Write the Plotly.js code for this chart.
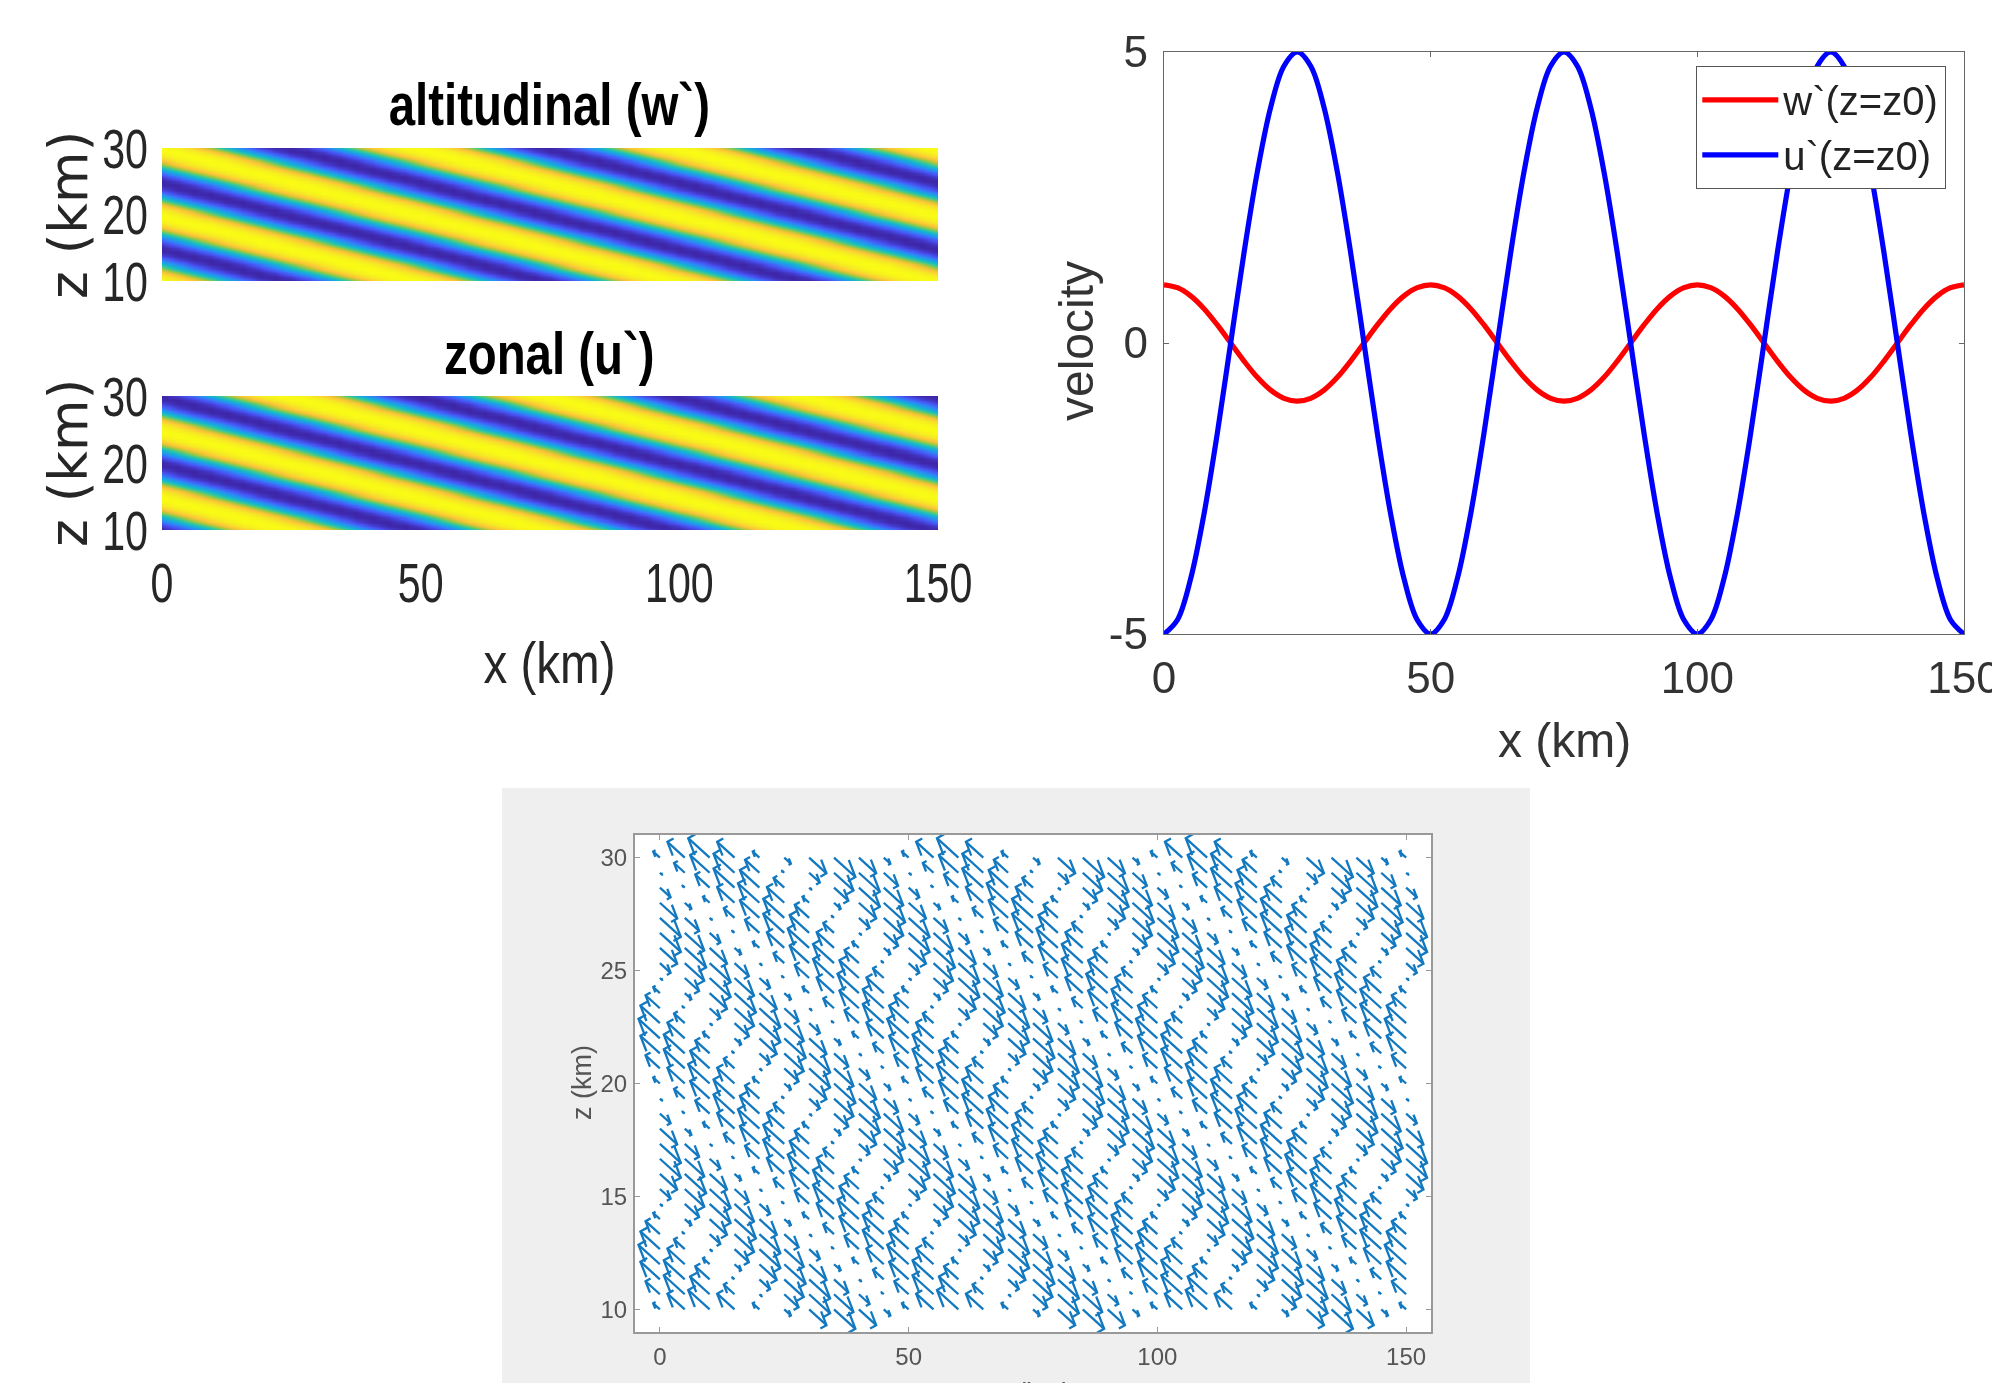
<!DOCTYPE html>
<html><head><meta charset="utf-8"><script src="https://cdn.plot.ly/plotly-3.0.1.min.js"></script>
<style>html,body{margin:0;padding:0;background:#fff;overflow:hidden}#c{width:1992px;height:1383px;filter:blur(0.6px)}</style></head>
<body><div id="c"></div><script>
const heatX=[0,3.125,6.25,9.375,12.5,15.625,18.75,21.875,25,28.125,31.25,34.375,37.5,40.625,43.75,46.875,50,53.125,56.25,59.375,62.5,65.625,68.75,71.875,75,78.125,81.25,84.375,87.5,90.625,93.75,96.875,100,103.125,106.25,109.375,112.5,115.625,118.75,121.875,125,128.125,131.25,134.375,137.5,140.625,143.75,146.875,150];
const heatZ=[10,10.625,11.25,11.875,12.5,13.125,13.75,14.375,15,15.625,16.25,16.875,17.5,18.125,18.75,19.375,20,20.625,21.25,21.875,22.5,23.125,23.75,24.375,25,25.625,26.25,26.875,27.5,28.125,28.75,29.375,30];
const wField=[
[99,85,59,23,-16,-52,-81,-97,-99,-85,-59,-23,16,52,81,97,99,85,59,23,-16,-52,-81,-97,-99,-85,-59,-23,16,52,81,97,99,85,59,23,-16,-52,-81,-97,-99,-85,-59,-23,16,52,81,97,99],
[85,59,23,-16,-52,-81,-97,-99,-85,-59,-23,16,52,81,97,99,85,59,23,-16,-52,-81,-97,-99,-85,-59,-23,16,52,81,97,99,85,59,23,-16,-52,-81,-97,-99,-85,-59,-23,16,52,81,97,99,85],
[59,23,-16,-52,-81,-97,-99,-85,-59,-23,16,52,81,97,99,85,59,23,-16,-52,-81,-97,-99,-85,-59,-23,16,52,81,97,99,85,59,23,-16,-52,-81,-97,-99,-85,-59,-23,16,52,81,97,99,85,59],
[23,-16,-52,-81,-97,-99,-85,-59,-23,16,52,81,97,99,85,59,23,-16,-52,-81,-97,-99,-85,-59,-23,16,52,81,97,99,85,59,23,-16,-52,-81,-97,-99,-85,-59,-23,16,52,81,97,99,85,59,23],
[-16,-52,-81,-97,-99,-85,-59,-23,16,52,81,97,99,85,59,23,-16,-52,-81,-97,-99,-85,-59,-23,16,52,81,97,99,85,59,23,-16,-52,-81,-97,-99,-85,-59,-23,16,52,81,97,99,85,59,23,-16],
[-52,-81,-97,-99,-85,-59,-23,16,52,81,97,99,85,59,23,-16,-52,-81,-97,-99,-85,-59,-23,16,52,81,97,99,85,59,23,-16,-52,-81,-97,-99,-85,-59,-23,16,52,81,97,99,85,59,23,-16,-52],
[-81,-97,-99,-85,-59,-23,16,52,81,97,99,85,59,23,-16,-52,-81,-97,-99,-85,-59,-23,16,52,81,97,99,85,59,23,-16,-52,-81,-97,-99,-85,-59,-23,16,52,81,97,99,85,59,23,-16,-52,-81],
[-97,-99,-85,-59,-23,16,52,81,97,99,85,59,23,-16,-52,-81,-97,-99,-85,-59,-23,16,52,81,97,99,85,59,23,-16,-52,-81,-97,-99,-85,-59,-23,16,52,81,97,99,85,59,23,-16,-52,-81,-97],
[-99,-85,-59,-23,16,52,81,97,99,85,59,23,-16,-52,-81,-97,-99,-85,-59,-23,16,52,81,97,99,85,59,23,-16,-52,-81,-97,-99,-85,-59,-23,16,52,81,97,99,85,59,23,-16,-52,-81,-97,-99],
[-85,-59,-23,16,52,81,97,99,85,59,23,-16,-52,-81,-97,-99,-85,-59,-23,16,52,81,97,99,85,59,23,-16,-52,-81,-97,-99,-85,-59,-23,16,52,81,97,99,85,59,23,-16,-52,-81,-97,-99,-85],
[-59,-23,16,52,81,97,99,85,59,23,-16,-52,-81,-97,-99,-85,-59,-23,16,52,81,97,99,85,59,23,-16,-52,-81,-97,-99,-85,-59,-23,16,52,81,97,99,85,59,23,-16,-52,-81,-97,-99,-85,-59],
[-23,16,52,81,97,99,85,59,23,-16,-52,-81,-97,-99,-85,-59,-23,16,52,81,97,99,85,59,23,-16,-52,-81,-97,-99,-85,-59,-23,16,52,81,97,99,85,59,23,-16,-52,-81,-97,-99,-85,-59,-23],
[16,52,81,97,99,85,59,23,-16,-52,-81,-97,-99,-85,-59,-23,16,52,81,97,99,85,59,23,-16,-52,-81,-97,-99,-85,-59,-23,16,52,81,97,99,85,59,23,-16,-52,-81,-97,-99,-85,-59,-23,16],
[52,81,97,99,85,59,23,-16,-52,-81,-97,-99,-85,-59,-23,16,52,81,97,99,85,59,23,-16,-52,-81,-97,-99,-85,-59,-23,16,52,81,97,99,85,59,23,-16,-52,-81,-97,-99,-85,-59,-23,16,52],
[81,97,99,85,59,23,-16,-52,-81,-97,-99,-85,-59,-23,16,52,81,97,99,85,59,23,-16,-52,-81,-97,-99,-85,-59,-23,16,52,81,97,99,85,59,23,-16,-52,-81,-97,-99,-85,-59,-23,16,52,81],
[97,99,85,59,23,-16,-52,-81,-97,-99,-85,-59,-23,16,52,81,97,99,85,59,23,-16,-52,-81,-97,-99,-85,-59,-23,16,52,81,97,99,85,59,23,-16,-52,-81,-97,-99,-85,-59,-23,16,52,81,97],
[99,85,59,23,-16,-52,-81,-97,-99,-85,-59,-23,16,52,81,97,99,85,59,23,-16,-52,-81,-97,-99,-85,-59,-23,16,52,81,97,99,85,59,23,-16,-52,-81,-97,-99,-85,-59,-23,16,52,81,97,99],
[85,59,23,-16,-52,-81,-97,-99,-85,-59,-23,16,52,81,97,99,85,59,23,-16,-52,-81,-97,-99,-85,-59,-23,16,52,81,97,99,85,59,23,-16,-52,-81,-97,-99,-85,-59,-23,16,52,81,97,99,85],
[59,23,-16,-52,-81,-97,-99,-85,-59,-23,16,52,81,97,99,85,59,23,-16,-52,-81,-97,-99,-85,-59,-23,16,52,81,97,99,85,59,23,-16,-52,-81,-97,-99,-85,-59,-23,16,52,81,97,99,85,59],
[23,-16,-52,-81,-97,-99,-85,-59,-23,16,52,81,97,99,85,59,23,-16,-52,-81,-97,-99,-85,-59,-23,16,52,81,97,99,85,59,23,-16,-52,-81,-97,-99,-85,-59,-23,16,52,81,97,99,85,59,23],
[-16,-52,-81,-97,-99,-85,-59,-23,16,52,81,97,99,85,59,23,-16,-52,-81,-97,-99,-85,-59,-23,16,52,81,97,99,85,59,23,-16,-52,-81,-97,-99,-85,-59,-23,16,52,81,97,99,85,59,23,-16],
[-52,-81,-97,-99,-85,-59,-23,16,52,81,97,99,85,59,23,-16,-52,-81,-97,-99,-85,-59,-23,16,52,81,97,99,85,59,23,-16,-52,-81,-97,-99,-85,-59,-23,16,52,81,97,99,85,59,23,-16,-52],
[-81,-97,-99,-85,-59,-23,16,52,81,97,99,85,59,23,-16,-52,-81,-97,-99,-85,-59,-23,16,52,81,97,99,85,59,23,-16,-52,-81,-97,-99,-85,-59,-23,16,52,81,97,99,85,59,23,-16,-52,-81],
[-97,-99,-85,-59,-23,16,52,81,97,99,85,59,23,-16,-52,-81,-97,-99,-85,-59,-23,16,52,81,97,99,85,59,23,-16,-52,-81,-97,-99,-85,-59,-23,16,52,81,97,99,85,59,23,-16,-52,-81,-97],
[-99,-85,-59,-23,16,52,81,97,99,85,59,23,-16,-52,-81,-97,-99,-85,-59,-23,16,52,81,97,99,85,59,23,-16,-52,-81,-97,-99,-85,-59,-23,16,52,81,97,99,85,59,23,-16,-52,-81,-97,-99],
[-85,-59,-23,16,52,81,97,99,85,59,23,-16,-52,-81,-97,-99,-85,-59,-23,16,52,81,97,99,85,59,23,-16,-52,-81,-97,-99,-85,-59,-23,16,52,81,97,99,85,59,23,-16,-52,-81,-97,-99,-85],
[-59,-23,16,52,81,97,99,85,59,23,-16,-52,-81,-97,-99,-85,-59,-23,16,52,81,97,99,85,59,23,-16,-52,-81,-97,-99,-85,-59,-23,16,52,81,97,99,85,59,23,-16,-52,-81,-97,-99,-85,-59],
[-23,16,52,81,97,99,85,59,23,-16,-52,-81,-97,-99,-85,-59,-23,16,52,81,97,99,85,59,23,-16,-52,-81,-97,-99,-85,-59,-23,16,52,81,97,99,85,59,23,-16,-52,-81,-97,-99,-85,-59,-23],
[16,52,81,97,99,85,59,23,-16,-52,-81,-97,-99,-85,-59,-23,16,52,81,97,99,85,59,23,-16,-52,-81,-97,-99,-85,-59,-23,16,52,81,97,99,85,59,23,-16,-52,-81,-97,-99,-85,-59,-23,16],
[52,81,97,99,85,59,23,-16,-52,-81,-97,-99,-85,-59,-23,16,52,81,97,99,85,59,23,-16,-52,-81,-97,-99,-85,-59,-23,16,52,81,97,99,85,59,23,-16,-52,-81,-97,-99,-85,-59,-23,16,52],
[81,97,99,85,59,23,-16,-52,-81,-97,-99,-85,-59,-23,16,52,81,97,99,85,59,23,-16,-52,-81,-97,-99,-85,-59,-23,16,52,81,97,99,85,59,23,-16,-52,-81,-97,-99,-85,-59,-23,16,52,81],
[97,99,85,59,23,-16,-52,-81,-97,-99,-85,-59,-23,16,52,81,97,99,85,59,23,-16,-52,-81,-97,-99,-85,-59,-23,16,52,81,97,99,85,59,23,-16,-52,-81,-97,-99,-85,-59,-23,16,52,81,97],
[99,85,59,23,-16,-52,-81,-97,-99,-85,-59,-23,16,52,81,97,99,85,59,23,-16,-52,-81,-97,-99,-85,-59,-23,16,52,81,97,99,85,59,23,-16,-52,-81,-97,-99,-85,-59,-23,16,52,81,97,99]];
const uField=[
[-99,-85,-59,-23,16,52,81,97,99,85,59,23,-16,-52,-81,-97,-99,-85,-59,-23,16,52,81,97,99,85,59,23,-16,-52,-81,-97,-99,-85,-59,-23,16,52,81,97,99,85,59,23,-16,-52,-81,-97,-99],
[-85,-59,-23,16,52,81,97,99,85,59,23,-16,-52,-81,-97,-99,-85,-59,-23,16,52,81,97,99,85,59,23,-16,-52,-81,-97,-99,-85,-59,-23,16,52,81,97,99,85,59,23,-16,-52,-81,-97,-99,-85],
[-59,-23,16,52,81,97,99,85,59,23,-16,-52,-81,-97,-99,-85,-59,-23,16,52,81,97,99,85,59,23,-16,-52,-81,-97,-99,-85,-59,-23,16,52,81,97,99,85,59,23,-16,-52,-81,-97,-99,-85,-59],
[-23,16,52,81,97,99,85,59,23,-16,-52,-81,-97,-99,-85,-59,-23,16,52,81,97,99,85,59,23,-16,-52,-81,-97,-99,-85,-59,-23,16,52,81,97,99,85,59,23,-16,-52,-81,-97,-99,-85,-59,-23],
[16,52,81,97,99,85,59,23,-16,-52,-81,-97,-99,-85,-59,-23,16,52,81,97,99,85,59,23,-16,-52,-81,-97,-99,-85,-59,-23,16,52,81,97,99,85,59,23,-16,-52,-81,-97,-99,-85,-59,-23,16],
[52,81,97,99,85,59,23,-16,-52,-81,-97,-99,-85,-59,-23,16,52,81,97,99,85,59,23,-16,-52,-81,-97,-99,-85,-59,-23,16,52,81,97,99,85,59,23,-16,-52,-81,-97,-99,-85,-59,-23,16,52],
[81,97,99,85,59,23,-16,-52,-81,-97,-99,-85,-59,-23,16,52,81,97,99,85,59,23,-16,-52,-81,-97,-99,-85,-59,-23,16,52,81,97,99,85,59,23,-16,-52,-81,-97,-99,-85,-59,-23,16,52,81],
[97,99,85,59,23,-16,-52,-81,-97,-99,-85,-59,-23,16,52,81,97,99,85,59,23,-16,-52,-81,-97,-99,-85,-59,-23,16,52,81,97,99,85,59,23,-16,-52,-81,-97,-99,-85,-59,-23,16,52,81,97],
[99,85,59,23,-16,-52,-81,-97,-99,-85,-59,-23,16,52,81,97,99,85,59,23,-16,-52,-81,-97,-99,-85,-59,-23,16,52,81,97,99,85,59,23,-16,-52,-81,-97,-99,-85,-59,-23,16,52,81,97,99],
[85,59,23,-16,-52,-81,-97,-99,-85,-59,-23,16,52,81,97,99,85,59,23,-16,-52,-81,-97,-99,-85,-59,-23,16,52,81,97,99,85,59,23,-16,-52,-81,-97,-99,-85,-59,-23,16,52,81,97,99,85],
[59,23,-16,-52,-81,-97,-99,-85,-59,-23,16,52,81,97,99,85,59,23,-16,-52,-81,-97,-99,-85,-59,-23,16,52,81,97,99,85,59,23,-16,-52,-81,-97,-99,-85,-59,-23,16,52,81,97,99,85,59],
[23,-16,-52,-81,-97,-99,-85,-59,-23,16,52,81,97,99,85,59,23,-16,-52,-81,-97,-99,-85,-59,-23,16,52,81,97,99,85,59,23,-16,-52,-81,-97,-99,-85,-59,-23,16,52,81,97,99,85,59,23],
[-16,-52,-81,-97,-99,-85,-59,-23,16,52,81,97,99,85,59,23,-16,-52,-81,-97,-99,-85,-59,-23,16,52,81,97,99,85,59,23,-16,-52,-81,-97,-99,-85,-59,-23,16,52,81,97,99,85,59,23,-16],
[-52,-81,-97,-99,-85,-59,-23,16,52,81,97,99,85,59,23,-16,-52,-81,-97,-99,-85,-59,-23,16,52,81,97,99,85,59,23,-16,-52,-81,-97,-99,-85,-59,-23,16,52,81,97,99,85,59,23,-16,-52],
[-81,-97,-99,-85,-59,-23,16,52,81,97,99,85,59,23,-16,-52,-81,-97,-99,-85,-59,-23,16,52,81,97,99,85,59,23,-16,-52,-81,-97,-99,-85,-59,-23,16,52,81,97,99,85,59,23,-16,-52,-81],
[-97,-99,-85,-59,-23,16,52,81,97,99,85,59,23,-16,-52,-81,-97,-99,-85,-59,-23,16,52,81,97,99,85,59,23,-16,-52,-81,-97,-99,-85,-59,-23,16,52,81,97,99,85,59,23,-16,-52,-81,-97],
[-99,-85,-59,-23,16,52,81,97,99,85,59,23,-16,-52,-81,-97,-99,-85,-59,-23,16,52,81,97,99,85,59,23,-16,-52,-81,-97,-99,-85,-59,-23,16,52,81,97,99,85,59,23,-16,-52,-81,-97,-99],
[-85,-59,-23,16,52,81,97,99,85,59,23,-16,-52,-81,-97,-99,-85,-59,-23,16,52,81,97,99,85,59,23,-16,-52,-81,-97,-99,-85,-59,-23,16,52,81,97,99,85,59,23,-16,-52,-81,-97,-99,-85],
[-59,-23,16,52,81,97,99,85,59,23,-16,-52,-81,-97,-99,-85,-59,-23,16,52,81,97,99,85,59,23,-16,-52,-81,-97,-99,-85,-59,-23,16,52,81,97,99,85,59,23,-16,-52,-81,-97,-99,-85,-59],
[-23,16,52,81,97,99,85,59,23,-16,-52,-81,-97,-99,-85,-59,-23,16,52,81,97,99,85,59,23,-16,-52,-81,-97,-99,-85,-59,-23,16,52,81,97,99,85,59,23,-16,-52,-81,-97,-99,-85,-59,-23],
[16,52,81,97,99,85,59,23,-16,-52,-81,-97,-99,-85,-59,-23,16,52,81,97,99,85,59,23,-16,-52,-81,-97,-99,-85,-59,-23,16,52,81,97,99,85,59,23,-16,-52,-81,-97,-99,-85,-59,-23,16],
[52,81,97,99,85,59,23,-16,-52,-81,-97,-99,-85,-59,-23,16,52,81,97,99,85,59,23,-16,-52,-81,-97,-99,-85,-59,-23,16,52,81,97,99,85,59,23,-16,-52,-81,-97,-99,-85,-59,-23,16,52],
[81,97,99,85,59,23,-16,-52,-81,-97,-99,-85,-59,-23,16,52,81,97,99,85,59,23,-16,-52,-81,-97,-99,-85,-59,-23,16,52,81,97,99,85,59,23,-16,-52,-81,-97,-99,-85,-59,-23,16,52,81],
[97,99,85,59,23,-16,-52,-81,-97,-99,-85,-59,-23,16,52,81,97,99,85,59,23,-16,-52,-81,-97,-99,-85,-59,-23,16,52,81,97,99,85,59,23,-16,-52,-81,-97,-99,-85,-59,-23,16,52,81,97],
[99,85,59,23,-16,-52,-81,-97,-99,-85,-59,-23,16,52,81,97,99,85,59,23,-16,-52,-81,-97,-99,-85,-59,-23,16,52,81,97,99,85,59,23,-16,-52,-81,-97,-99,-85,-59,-23,16,52,81,97,99],
[85,59,23,-16,-52,-81,-97,-99,-85,-59,-23,16,52,81,97,99,85,59,23,-16,-52,-81,-97,-99,-85,-59,-23,16,52,81,97,99,85,59,23,-16,-52,-81,-97,-99,-85,-59,-23,16,52,81,97,99,85],
[59,23,-16,-52,-81,-97,-99,-85,-59,-23,16,52,81,97,99,85,59,23,-16,-52,-81,-97,-99,-85,-59,-23,16,52,81,97,99,85,59,23,-16,-52,-81,-97,-99,-85,-59,-23,16,52,81,97,99,85,59],
[23,-16,-52,-81,-97,-99,-85,-59,-23,16,52,81,97,99,85,59,23,-16,-52,-81,-97,-99,-85,-59,-23,16,52,81,97,99,85,59,23,-16,-52,-81,-97,-99,-85,-59,-23,16,52,81,97,99,85,59,23],
[-16,-52,-81,-97,-99,-85,-59,-23,16,52,81,97,99,85,59,23,-16,-52,-81,-97,-99,-85,-59,-23,16,52,81,97,99,85,59,23,-16,-52,-81,-97,-99,-85,-59,-23,16,52,81,97,99,85,59,23,-16],
[-52,-81,-97,-99,-85,-59,-23,16,52,81,97,99,85,59,23,-16,-52,-81,-97,-99,-85,-59,-23,16,52,81,97,99,85,59,23,-16,-52,-81,-97,-99,-85,-59,-23,16,52,81,97,99,85,59,23,-16,-52],
[-81,-97,-99,-85,-59,-23,16,52,81,97,99,85,59,23,-16,-52,-81,-97,-99,-85,-59,-23,16,52,81,97,99,85,59,23,-16,-52,-81,-97,-99,-85,-59,-23,16,52,81,97,99,85,59,23,-16,-52,-81],
[-97,-99,-85,-59,-23,16,52,81,97,99,85,59,23,-16,-52,-81,-97,-99,-85,-59,-23,16,52,81,97,99,85,59,23,-16,-52,-81,-97,-99,-85,-59,-23,16,52,81,97,99,85,59,23,-16,-52,-81,-97],
[-99,-85,-59,-23,16,52,81,97,99,85,59,23,-16,-52,-81,-97,-99,-85,-59,-23,16,52,81,97,99,85,59,23,-16,-52,-81,-97,-99,-85,-59,-23,16,52,81,97,99,85,59,23,-16,-52,-81,-97,-99]];
const lineX=[0,2.5,5,7.5,10,12.5,15,17.5,20,22.5,25,27.5,30,32.5,35,37.5,40,42.5,45,47.5,50,52.5,55,57.5,60,62.5,65,67.5,70,72.5,75,77.5,80,82.5,85,87.5,90,92.5,95,97.5,100,102.5,105,107.5,110,112.5,115,117.5,120,122.5,125,127.5,130,132.5,135,137.5,140,142.5,145,147.5,150];
const lineW=[1,.95,.81,.59,.31,0,-.31,-.59,-.81,-.95,-1,-.95,-.81,-.59,-.31,0,.31,.59,.81,.95,1,.95,.81,.59,.31,0,-.31,-.59,-.81,-.95,-1,-.95,-.81,-.59,-.31,0,.31,.59,.81,.95,1,.95,.81,.59,.31,0,-.31,-.59,-.81,-.95,-1,-.95,-.81,-.59,-.31,0,.31,.59,.81,.95,1];
const lineU=[-5,-4.76,-4.05,-2.94,-1.55,0,1.55,2.94,4.05,4.76,5,4.76,4.05,2.94,1.55,0,-1.55,-2.94,-4.05,-4.76,-5,-4.76,-4.05,-2.94,-1.55,0,1.55,2.94,4.05,4.76,5,4.76,4.05,2.94,1.55,0,-1.55,-2.94,-4.05,-4.76,-5,-4.76,-4.05,-2.94,-1.55,0,1.55,2.94,4.05,4.76,5,4.76,4.05,2.94,1.55,0,-1.55,-2.94,-4.05,-4.76,-5];
const qX=[0,5,10,15,20,25,30,35,40,45,50,55,60,65,70,75,80,85,90,95,100,105,110,115,120,125,130,135,140,145,150];
const qZ=[10,10.67,11.33,12,12.67,13.33,14,14.67,15.33,16,16.67,17.33,18,18.67,19.33,20,20.67,21.33,22,22.67,23.33,24,24.67,25.33,26,26.67,27.33,28,28.67,29.33,30];
const qA=[
[.31,.81,1,.81,.31,-.31,-.81,-1,-.81,-.31,.31,.81,1,.81,.31,-.31,-.81,-1,-.81,-.31,.31,.81,1,.81,.31,-.31,-.81,-1,-.81,-.31,.31],
[.67,.98,.91,.5,-.1,-.67,-.98,-.91,-.5,.1,.67,.98,.91,.5,-.1,-.67,-.98,-.91,-.5,.1,.67,.98,.91,.5,-.1,-.67,-.98,-.91,-.5,.1,.67],
[.91,.98,.67,.1,-.5,-.91,-.98,-.67,-.1,.5,.91,.98,.67,.1,-.5,-.91,-.98,-.67,-.1,.5,.91,.98,.67,.1,-.5,-.91,-.98,-.67,-.1,.5,.91],
[1,.81,.31,-.31,-.81,-1,-.81,-.31,.31,.81,1,.81,.31,-.31,-.81,-1,-.81,-.31,.31,.81,1,.81,.31,-.31,-.81,-1,-.81,-.31,.31,.81,1],
[.91,.5,-.1,-.67,-.98,-.91,-.5,.1,.67,.98,.91,.5,-.1,-.67,-.98,-.91,-.5,.1,.67,.98,.91,.5,-.1,-.67,-.98,-.91,-.5,.1,.67,.98,.91],
[.67,.1,-.5,-.91,-.98,-.67,-.1,.5,.91,.98,.67,.1,-.5,-.91,-.98,-.67,-.1,.5,.91,.98,.67,.1,-.5,-.91,-.98,-.67,-.1,.5,.91,.98,.67],
[.31,-.31,-.81,-1,-.81,-.31,.31,.81,1,.81,.31,-.31,-.81,-1,-.81,-.31,.31,.81,1,.81,.31,-.31,-.81,-1,-.81,-.31,.31,.81,1,.81,.31],
[-.1,-.67,-.98,-.91,-.5,.1,.67,.98,.91,.5,-.1,-.67,-.98,-.91,-.5,.1,.67,.98,.91,.5,-.1,-.67,-.98,-.91,-.5,.1,.67,.98,.91,.5,-.1],
[-.5,-.91,-.98,-.67,-.1,.5,.91,.98,.67,.1,-.5,-.91,-.98,-.67,-.1,.5,.91,.98,.67,.1,-.5,-.91,-.98,-.67,-.1,.5,.91,.98,.67,.1,-.5],
[-.81,-1,-.81,-.31,.31,.81,1,.81,.31,-.31,-.81,-1,-.81,-.31,.31,.81,1,.81,.31,-.31,-.81,-1,-.81,-.31,.31,.81,1,.81,.31,-.31,-.81],
[-.98,-.91,-.5,.1,.67,.98,.91,.5,-.1,-.67,-.98,-.91,-.5,.1,.67,.98,.91,.5,-.1,-.67,-.98,-.91,-.5,.1,.67,.98,.91,.5,-.1,-.67,-.98],
[-.98,-.67,-.1,.5,.91,.98,.67,.1,-.5,-.91,-.98,-.67,-.1,.5,.91,.98,.67,.1,-.5,-.91,-.98,-.67,-.1,.5,.91,.98,.67,.1,-.5,-.91,-.98],
[-.81,-.31,.31,.81,1,.81,.31,-.31,-.81,-1,-.81,-.31,.31,.81,1,.81,.31,-.31,-.81,-1,-.81,-.31,.31,.81,1,.81,.31,-.31,-.81,-1,-.81],
[-.5,.1,.67,.98,.91,.5,-.1,-.67,-.98,-.91,-.5,.1,.67,.98,.91,.5,-.1,-.67,-.98,-.91,-.5,.1,.67,.98,.91,.5,-.1,-.67,-.98,-.91,-.5],
[-.1,.5,.91,.98,.67,.1,-.5,-.91,-.98,-.67,-.1,.5,.91,.98,.67,.1,-.5,-.91,-.98,-.67,-.1,.5,.91,.98,.67,.1,-.5,-.91,-.98,-.67,-.1],
[.31,.81,1,.81,.31,-.31,-.81,-1,-.81,-.31,.31,.81,1,.81,.31,-.31,-.81,-1,-.81,-.31,.31,.81,1,.81,.31,-.31,-.81,-1,-.81,-.31,.31],
[.67,.98,.91,.5,-.1,-.67,-.98,-.91,-.5,.1,.67,.98,.91,.5,-.1,-.67,-.98,-.91,-.5,.1,.67,.98,.91,.5,-.1,-.67,-.98,-.91,-.5,.1,.67],
[.91,.98,.67,.1,-.5,-.91,-.98,-.67,-.1,.5,.91,.98,.67,.1,-.5,-.91,-.98,-.67,-.1,.5,.91,.98,.67,.1,-.5,-.91,-.98,-.67,-.1,.5,.91],
[1,.81,.31,-.31,-.81,-1,-.81,-.31,.31,.81,1,.81,.31,-.31,-.81,-1,-.81,-.31,.31,.81,1,.81,.31,-.31,-.81,-1,-.81,-.31,.31,.81,1],
[.91,.5,-.1,-.67,-.98,-.91,-.5,.1,.67,.98,.91,.5,-.1,-.67,-.98,-.91,-.5,.1,.67,.98,.91,.5,-.1,-.67,-.98,-.91,-.5,.1,.67,.98,.91],
[.67,.1,-.5,-.91,-.98,-.67,-.1,.5,.91,.98,.67,.1,-.5,-.91,-.98,-.67,-.1,.5,.91,.98,.67,.1,-.5,-.91,-.98,-.67,-.1,.5,.91,.98,.67],
[.31,-.31,-.81,-1,-.81,-.31,.31,.81,1,.81,.31,-.31,-.81,-1,-.81,-.31,.31,.81,1,.81,.31,-.31,-.81,-1,-.81,-.31,.31,.81,1,.81,.31],
[-.1,-.67,-.98,-.91,-.5,.1,.67,.98,.91,.5,-.1,-.67,-.98,-.91,-.5,.1,.67,.98,.91,.5,-.1,-.67,-.98,-.91,-.5,.1,.67,.98,.91,.5,-.1],
[-.5,-.91,-.98,-.67,-.1,.5,.91,.98,.67,.1,-.5,-.91,-.98,-.67,-.1,.5,.91,.98,.67,.1,-.5,-.91,-.98,-.67,-.1,.5,.91,.98,.67,.1,-.5],
[-.81,-1,-.81,-.31,.31,.81,1,.81,.31,-.31,-.81,-1,-.81,-.31,.31,.81,1,.81,.31,-.31,-.81,-1,-.81,-.31,.31,.81,1,.81,.31,-.31,-.81],
[-.98,-.91,-.5,.1,.67,.98,.91,.5,-.1,-.67,-.98,-.91,-.5,.1,.67,.98,.91,.5,-.1,-.67,-.98,-.91,-.5,.1,.67,.98,.91,.5,-.1,-.67,-.98],
[-.98,-.67,-.1,.5,.91,.98,.67,.1,-.5,-.91,-.98,-.67,-.1,.5,.91,.98,.67,.1,-.5,-.91,-.98,-.67,-.1,.5,.91,.98,.67,.1,-.5,-.91,-.98],
[-.81,-.31,.31,.81,1,.81,.31,-.31,-.81,-1,-.81,-.31,.31,.81,1,.81,.31,-.31,-.81,-1,-.81,-.31,.31,.81,1,.81,.31,-.31,-.81,-1,-.81],
[-.5,.1,.67,.98,.91,.5,-.1,-.67,-.98,-.91,-.5,.1,.67,.98,.91,.5,-.1,-.67,-.98,-.91,-.5,.1,.67,.98,.91,.5,-.1,-.67,-.98,-.91,-.5],
[-.1,.5,.91,.98,.67,.1,-.5,-.91,-.98,-.67,-.1,.5,.91,.98,.67,.1,-.5,-.91,-.98,-.67,-.1,.5,.91,.98,.67,.1,-.5,-.91,-.98,-.67,-.1],
[.31,.81,1,.81,.31,-.31,-.81,-1,-.81,-.31,.31,.81,1,.81,.31,-.31,-.81,-1,-.81,-.31,.31,.81,1,.81,.31,-.31,-.81,-1,-.81,-.31,.31]];

const W=1992,H=1383;
const dx=(a,b)=>[a/W,b/W], dy=(a,b)=>[1-b/H,1-a/H];
const parula=[[0,'rgb(62,38,168)'],[.125,'rgb(72,82,244)'],[.25,'rgb(46,135,247)'],[.375,'rgb(18,177,214)'],[.5,'rgb(55,200,151)'],[.625,'rgb(171,199,57)'],[.75,'rgb(254,195,56)'],[.875,'rgb(245,229,38)'],[1,'rgb(249,251,21)']];
const qx=[],qy=[];const a=.33,b=.33,US=-4.3,VS=.86;
qZ.forEach((z,j)=>qX.forEach((x,i)=>{const u=US*qA[j][i],v=VS*qA[j][i],X=x+u,Y=z+v;
 qx.push(x,X,null,X-a*(u+b*v),X,X-a*(u-b*v),null);
 qy.push(z,Y,null,Y-a*(v-b*u),Y,Y-a*(v+b*u),null);}));
const traces=[
 {type:'heatmap',x:heatX,y:heatZ,z:wField,zmin:-98,zmax:98,zsmooth:'best',colorscale:parula,showscale:false,xaxis:'x',yaxis:'y',hoverinfo:'skip'},
 {type:'heatmap',x:heatX,y:heatZ,z:uField,zmin:-98,zmax:98,zsmooth:'best',colorscale:parula,showscale:false,xaxis:'x2',yaxis:'y2',hoverinfo:'skip'},
 {type:'scatter',mode:'lines',name:'w`(z=z0)',x:lineX,y:lineW,line:{color:'#ff0000',width:5.2,shape:'spline'},xaxis:'x3',yaxis:'y3',cliponaxis:false},
 {type:'scatter',mode:'lines',name:'u`(z=z0)',x:lineX,y:lineU,line:{color:'#0000ff',width:5.2,shape:'spline'},xaxis:'x3',yaxis:'y3',cliponaxis:false},
 {type:'scatter',mode:'lines',x:qx,y:qy,line:{color:'#1278BF',width:2.3},xaxis:'x4',yaxis:'y4',showlegend:false,connectgaps:false,cliponaxis:false,hoverinfo:'skip'}
];
const SANS='"Liberation Sans",Arial,sans-serif',DV='"DejaVu Sans",sans-serif';
const narTick={family:SANS,size:56,color:'#262626'};
const hmY=(d)=>({domain:d,range:[10,30],tickvals:[10,20,30],ticks:'',showline:false,showgrid:false,zeroline:false,tickfont:narTick,ticklabelstandoff:13});
const lineAx={showline:true,linecolor:'#666',linewidth:1.3,mirror:'ticks',ticks:'inside',ticklen:5,tickcolor:'#666',showgrid:false,zeroline:false,tickfont:{family:SANS,size:44,color:'#333'},ticklabeloverflow:'allow'};
const qAx={showline:true,linecolor:'#999',linewidth:2,mirror:'ticks',ticks:'inside',ticklen:5,tickcolor:'#999',showgrid:false,zeroline:false,tickfont:{family:SANS,size:24,color:'#555'}};
const ann=(text,x,y,font,ang)=>({text,x:x/W,y:1-y/H,xref:'paper',yref:'paper',xanchor:'center',yanchor:'middle',showarrow:false,textangle:ang||0,font});
const layout={width:W,height:H,margin:{l:0,r:0,t:0,b:0},paper_bgcolor:'#fff',plot_bgcolor:'#fff',
 xaxis:{domain:dx(162,938),range:[0,150],visible:false},
 yaxis:{...hmY(dy(148,281)),anchor:'x'},
 xaxis2:{domain:dx(162,938),range:[0,150],tickvals:[0,50,100,150],ticks:'',showline:false,showgrid:false,zeroline:false,tickfont:narTick,anchor:'y2',ticklabelstandoff:15},
 yaxis2:{...hmY(dy(396,530)),anchor:'x2'},
 xaxis3:{...lineAx,domain:dx(1164,1964),range:[0,150],tickvals:[0,50,100,150],anchor:'y3',ticklabelstandoff:5},
 yaxis3:{...lineAx,domain:dy(52,634),range:[-5,5],tickvals:[-5,0,5],ticktext:['-5','0','5'],anchor:'x3',ticklabelstandoff:6},
 xaxis4:{...qAx,domain:dx(635,1431),range:[-5,155],tickvals:[0,50,100,150],anchor:'y4',ticklabelstandoff:2},
 yaxis4:{...qAx,domain:dy(835,1332),range:[9,31],tickvals:[10,15,20,25,30],anchor:'x4',ticklabelstandoff:1},
 legend:{x:1696/W,y:1-66/H,xanchor:'left',yanchor:'top',bgcolor:'#fff',bordercolor:'#555',borderwidth:1.3,itemwidth:76,font:{family:SANS,size:40,color:'#222'}},
 showlegend:true,
 shapes:[
  {type:'rect',xref:'paper',yref:'paper',x0:502/W,x1:1530/W,y0:0,y1:1-788/H,fillcolor:'#efefef',line:{width:0},layer:'below'},
  {type:'rect',xref:'paper',yref:'paper',x0:635/W,x1:1431/W,y0:1-1332/H,y1:1-835/H,fillcolor:'#fff',line:{width:0},layer:'below'}],
 annotations:[
  ann('altitudinal (w`)',549,105,{family:SANS,size:60,color:'#000',weight:700}),
  ann('zonal (u`)',549,353,{family:SANS,size:60,color:'#000',weight:700}),
  ann('z (km)',69,215,{family:DV,size:53,color:'#262626'},-90),
  ann('z (km)',69,463,{family:DV,size:53,color:'#262626'},-90),
  ann('x (km)',549,663,{family:SANS,size:58,color:'#262626'}),
  ann('velocity',1076,341,{family:SANS,size:48,color:'#333'},-90),
  ann('x (km)',1564,740,{family:SANS,size:48,color:'#333'}),
  ann('z (km)',582,1083,{family:SANS,size:27,color:'#555'},-90),
  ann('x (km)',1033,1393,{family:SANS,size:27,color:'#555'})
 ]};
Plotly.newPlot('c',traces,layout,{staticPlot:true,displayModeBar:false}).then(()=>{
 const squeeze=(el,f)=>{el.setAttribute('textLength',el.getComputedTextLength()*f);el.setAttribute('lengthAdjust','spacingAndGlyphs');};
 document.querySelectorAll('.x2tick text,.ytick text,.y2tick text').forEach(el=>squeeze(el,.735));
 const at=document.querySelectorAll('.annotation-text');
 squeeze(at[0],.79);squeeze(at[1],.79);squeeze(at[4],.82);
});
</script></body></html>
